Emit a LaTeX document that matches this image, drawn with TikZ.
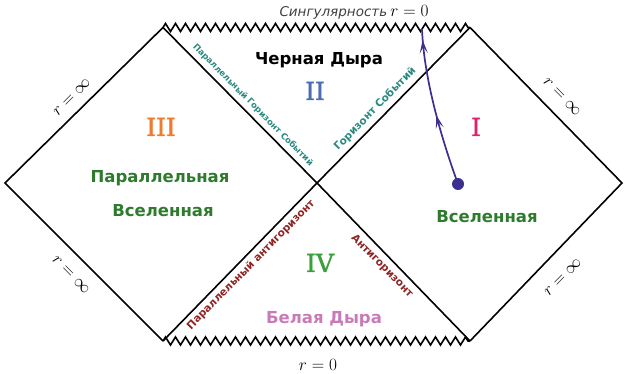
\documentclass[tikz,border=0pt]{standalone}
\usepackage{fontspec}
\setmainfont{DejaVu Sans}
\newfontfamily\serifnum[FakeBold=1.5]{DejaVu Serif}
\usetikzlibrary{decorations.pathmorphing,decorations.markings,arrows.meta}
\definecolor{uniGreen}{HTML}{2E7B2E}
\definecolor{numIII}{HTML}{F07A2E}
\definecolor{numI}{HTML}{E0226E}
\definecolor{numII}{HTML}{4A6DB5}
\definecolor{numIV}{HTML}{3AA03A}
\definecolor{whiteHole}{HTML}{C97BB8}
\definecolor{horTeal}{HTML}{2A8A7E}
\definecolor{antiRed}{HTML}{8E2424}
\definecolor{wline}{HTML}{3B2F8F}
\tikzset{
  edge/.style={line width=1.6pt, black, line join=miter},
  zz/.style={edge, decorate, decoration={zigzag, segment length=10pt, amplitude=4pt}},
  regiontext/.style={font=\fontsize{16.5}{19}\selectfont\bfseries, anchor=base, inner sep=0pt},
  numeral/.style={font=\serifnum\fontsize{25}{30}\selectfont, anchor=base, inner sep=0pt},
  horlabel/.style={font=\fontsize{10.5}{12}\selectfont\bfseries, inner sep=0pt},
  rlabel/.style={font=\fontsize{17.5}{20}\selectfont, inner sep=0pt},
  wl/.style={line width=1.7pt, wline},
}
\begin{document}
\begin{tikzpicture}[x=1pt,y=-1pt]
\useasboundingbox (0,0) rectangle (624,374);
% corners
\coordinate (L) at (5,183);
\coordinate (TL) at (163,27.5);
\coordinate (C) at (317,183);
\coordinate (TR) at (470,27.5);
\coordinate (R) at (622,183);
\coordinate (BL) at (163,341);
\coordinate (BR) at (470,341);
% edges
\draw[edge] (TL) -- (L) -- (BL);
\draw[edge] (TR) -- (R) -- (BR);
\draw[edge] (TL) -- (C) -- (BR);
\draw[edge] (BL) -- (C) -- (TR);
\draw[zz] (TL) -- (TR);
\draw[zz] (BL) -- (BR);
% singularity labels
\node[anchor=base, inner sep=0pt] (sing) at (354,17)
  {{\fontsize{13.5}{15}\selectfont\itshape\color{black!75}Сингулярность}\ \fontsize{17.5}{20}\selectfont$r=0$};
\node[rlabel, anchor=base] (rzero) at (318,370) {$r=0$};
% infinity labels
\node[rlabel, rotate=45.5] (rinfLT) at (72,97) {$r=\infty$};
\node[rlabel, rotate=-45.5] (rinfLB) at (71,275) {$r=\infty$};
\node[rlabel, rotate=-45.5] (rinfRT) at (562,97) {$r=\infty$};
\node[rlabel, rotate=45.5] (rinfRB) at (563,277) {$r=\infty$};
% region texts
\node[regiontext, text=black] (bh) at (319,65) {Черная Дыра};
\node[regiontext, text=uniGreen] (par1) at (160,183) {Параллельная};
\node[regiontext, text=uniGreen] (par2) at (163,217) {Вселенная};
\node[regiontext, text=uniGreen] (uni) at (487,223) {Вселенная};
\node[regiontext, text=whiteHole] (wh) at (324,323) {Белая Дыра};
% numerals
\node[numeral, text=numIII] (nIII) at (161,136) {III};
\node[numeral, text=numI] (nI) at (476,136) {I};
\node[numeral, text=numII] (nII) at (315,100) {II};
\node[numeral, text=numIV] (nIV) at (320,272) {IV};
% horizon labels
\node[horlabel, font=\fontsize{8.5}{10}\selectfont\bfseries, text=horTeal, rotate=-45.5] (phor) at (253,105) {Параллельный Горизонт Событий};
\node[horlabel, text=horTeal, rotate=45.5] (hor) at (375,109) {Горизонт Событий};
\node[horlabel, text=antiRed, rotate=45.5] (panti) at (251,265) {Параллельный антигоризонт};
\node[horlabel, text=antiRed, rotate=-45.5] (anti) at (382,266) {Антигоризонт};
% world line
\node[circle, fill=wline, minimum size=12pt, inner sep=0pt] (dot) at (458,184) {};
\coordinate (top) at (422,29);
\draw[wl, postaction={decorate}, decoration={markings,
    mark=at position 0.45 with {\arrow{Stealth[length=13pt,width=8pt,inset=6pt]}},
    mark=at position 0.93 with {\arrow{Stealth[length=13pt,width=8pt,inset=6pt]}}}]
  (dot.center) .. controls (442,140) and (424,80) .. (top);
\end{tikzpicture}
\end{document}
